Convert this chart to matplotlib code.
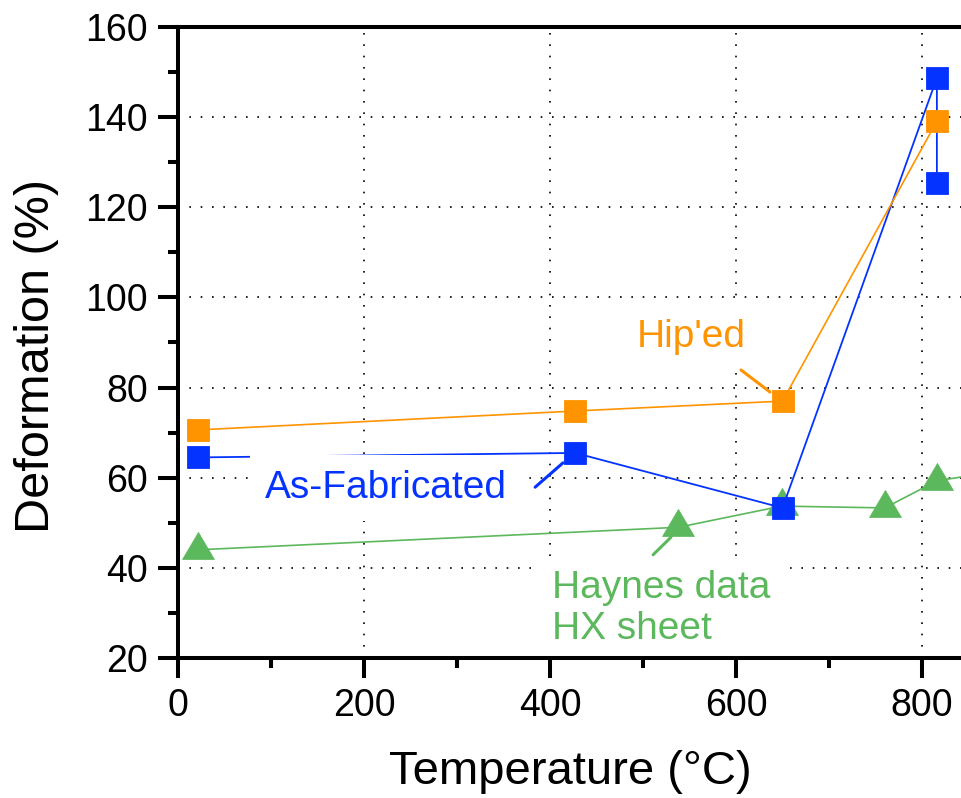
import matplotlib
matplotlib.use("Agg")
import matplotlib.pyplot as plt
from matplotlib.path import Path
from matplotlib.ticker import MultipleLocator

plt.rcParams['font.family'] = ['Liberation Sans', 'DejaVu Sans']

# Hip'ed material
hip_temp = [21, 427, 650, 816]
hip_def = [70.6, 74.8, 77.0, 139.1]

# As-fabricated material (two specimens tested at 816 °C)
fab_temp = [21, 427, 650, 816, 816]
fab_def = [64.5, 65.5, 53.3, 148.7, 125.4]

# Haynes data, HX sheet
hay_temp = [21, 538, 649, 760, 816, 871]
hay_def = [44.0, 49.0, 53.7, 53.3, 59.3, 61.1]

x_ticks = [0, 200, 400, 600, 800]
y_ticks = [20, 40, 60, 80, 100, 120, 140, 160]

ORANGE = '#FF9300'
BLUE = '#0433FF'
GREEN = '#5CB85C'

# triangle marker anchored at its centroid
tri = Path([(0, 0.667), (-0.59, -0.333), (0.59, -0.333), (0, 0.667)],
           [Path.MOVETO, Path.LINETO, Path.LINETO, Path.CLOSEPOLY])

fig = plt.figure(figsize=(9.62, 7.98), dpi=100)
ax = fig.add_axes([178 / 962, 140 / 798, 784 / 962, 631 / 798])

ax.plot(hay_temp, hay_def, color=GREEN, lw=1.2, marker=tri, ms=26,
        mfc=GREEN, mec=GREEN, mew=0.5, zorder=2, clip_on=True)
ax.plot(fab_temp, fab_def, color=BLUE, lw=1.3, marker='s', ms=16,
        mfc=BLUE, mec=BLUE, mew=0.6, zorder=3, clip_on=False)
ax.plot(hip_temp, hip_def, color=ORANGE, lw=1.2, marker='s', ms=16,
        mfc=ORANGE, mec=ORANGE, mew=0.6, zorder=4, clip_on=False)

ax.set_xlim(0, 843)
ax.set_ylim(20, 160)
ax.set_xticks(x_ticks)
ax.set_yticks(y_ticks)
ax.xaxis.set_minor_locator(MultipleLocator(100))
ax.yaxis.set_minor_locator(MultipleLocator(10))

ax.grid(True, which='major', color='black', linestyle=(0, (1, 5.8)), lw=1.2)
ax.set_axisbelow(True)

for side in ('left', 'bottom', 'top'):
    ax.spines[side].set_linewidth(2.9)
    ax.spines[side].set_zorder(10)
ax.spines['right'].set_visible(False)

ax.tick_params(which='major', direction='out', length=14.5, width=2.9,
               labelsize=27, pad=7)
ax.tick_params(which='minor', direction='out', length=7.5, width=2.9)
ax.tick_params(top=False, right=False, which='both')

ax.set_xlabel('Temperature (°C)', fontsize=34, va='center')
ax.xaxis.set_label_coords(0.501, -0.18)
ax.set_ylabel('Deformation (%)', fontsize=35, va='center')
ax.yaxis.set_label_coords((36 - 178) / 784, 0.479)

box = dict(boxstyle='square,pad=0.385', fc='white', ec='none')

ax.text(552, 89.0, "Hip'ed", color=ORANGE, fontsize=28, ha='center',
        va='baseline', bbox=box, zorder=6)
ax.text(224, 55.5, 'As-Fabricated', color=BLUE, fontsize=28, ha='center',
        va='baseline', bbox=box, zorder=6)
ax.text(402, 39.6, 'Haynes data\nHX sheet', color=GREEN, fontsize=28,
        ha='left', va='top', linespacing=1.2,
        bbox=dict(boxstyle='square,pad=0.3', fc='white', ec='none'), zorder=6)

# leader lines from labels to their series
leader = dict(arrowstyle='-', lw=2.2, shrinkA=0, shrinkB=0)
ax.annotate('', xy=(636.6, 79.0), xytext=(605.4, 83.9),
            arrowprops=dict(leader, color=ORANGE), zorder=7)
ax.annotate('', xy=(414, 63.3), xytext=(384, 57.9),
            arrowprops=dict(leader, color=BLUE), zorder=7)
ax.annotate('', xy=(530.1, 46.8), xytext=(510.8, 42.9),
            arrowprops=dict(leader, color=GREEN), zorder=7)

fig.savefig('out.png', dpi=100)
